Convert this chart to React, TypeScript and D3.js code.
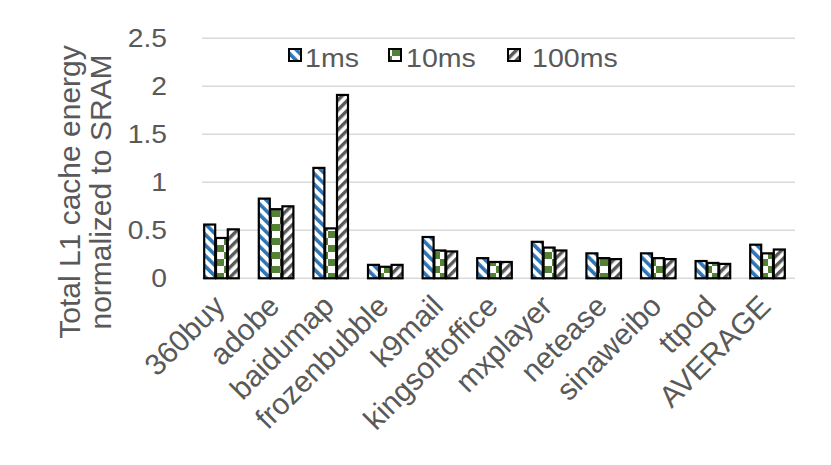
import React from "react";
import * as d3 from "d3";

const categories = ["360buy", "adobe", "baidumap", "frozenbubble", "k9mail", "kingsoftoffice", "mxplayer", "netease", "sinaweibo", "ttpod", "AVERAGE"];
const seriesNames = ["1ms", "10ms", "100ms"];
const values1ms = [0.56, 0.83, 1.15, 0.14, 0.43, 0.21, 0.38, 0.26, 0.26, 0.18, 0.35];
const values10ms = [0.42, 0.72, 0.52, 0.12, 0.29, 0.17, 0.32, 0.21, 0.21, 0.16, 0.26];
const values100ms = [0.51, 0.75, 1.91, 0.14, 0.28, 0.17, 0.29, 0.2, 0.2, 0.15, 0.3];
const yTicks = [0, 0.5, 1, 1.5, 2, 2.5];
const yTickLabels = ["0", "0.5", "1", "1.5", "2", "2.5"];

const W = 831;
const H = 465;
const FONT = "'Liberation Sans', Arial, sans-serif";
const TEXT = "#595959";

export default function App() {
  const series = [values1ms, values10ms, values100ms];
  const x = d3.scaleBand<string>().domain(categories).range([194.2, 794.8]).padding(0);
  const y = d3.scaleLinear().domain([0, 2.5]).range([278.3, 38.3]);
  const barW = 11;
  const step = 11.8;
  const fills = ["url(#p1)", "url(#p2)", "url(#p3)"];

  return (
    <svg width={W} height={H} style={{ position: "absolute", left: 0, top: 0, background: "#fff" }}>
      <defs>
        <pattern id="p1" patternUnits="userSpaceOnUse" width="7.5" height="7.5" patternTransform="rotate(-45)">
          <rect width="7.5" height="7.5" fill="#fff" />
          <rect width="3.6" height="7.5" fill="#2E75B6" />
        </pattern>
        <pattern id="p2" patternUnits="userSpaceOnUse" width="16" height="14">
          <rect width="16" height="14" fill="#fff" />
          <rect x="0" y="0" width="8" height="7" fill="#548235" />
          <rect x="8" y="7" width="8" height="7" fill="#548235" />
        </pattern>
        <pattern id="p3" patternUnits="userSpaceOnUse" width="7" height="7" patternTransform="rotate(45)">
          <rect width="7" height="7" fill="#fff" />
          <rect width="3.4" height="7" fill="#595959" />
        </pattern>
      </defs>

      {yTicks.map((t, i) => (
        <g key={i}>
          <line x1={202} x2={795} y1={y(t)} y2={y(t)} stroke="#d9d9d9" strokeWidth={1.6} />
          <text
            transform={`translate(167,${y(t)}) scale(1.13,1)`}
            dy="0.36em"
            textAnchor="end"
            fontFamily={FONT}
            fontSize={25}
            fill={TEXT}
          >
            {yTickLabels[i]}
          </text>
        </g>
      ))}

      {categories.map((c, ci) => {
        const cx = (x(c) as number) + x.bandwidth() / 2;
        return (
          <g key={c}>
            {series.map((vals, si) => {
              const bx = cx - step * 1.5 + si * step + (step - barW) / 2;
              return (
                <rect
                  key={si}
                  x={bx}
                  y={y(vals[ci])}
                  width={barW}
                  height={y(0) - y(vals[ci])}
                  fill={fills[si]}
                  stroke="#000"
                  strokeWidth={2.2}
                />
              );
            })}
            <text
              transform={`translate(${cx + 5},308) rotate(-45)`}
              textAnchor="end"
              fontFamily={FONT}
              fontSize={30}
              fill={TEXT}
            >
              {c}
            </text>
          </g>
        );
      })}

      {seriesNames.map((s, i) => {
        const lx = [289, 389, 508][i];
        const tx = [305, 406, 532][i];
        return (
          <g key={s}>
            <rect x={lx} y={49} width={12} height={12} fill={fills[i]} stroke="#000" strokeWidth={2} />
            <text transform={`translate(${tx},67) scale(1.12,1)`} fontFamily={FONT} fontSize={25.5} fill={TEXT}>
              {s}
            </text>
          </g>
        );
      })}

      <text transform="translate(0,192) rotate(-90)" textAnchor="middle" fontFamily={FONT} fontSize={30} fill={TEXT}>
        <tspan x={0} y={80}>Total L1 cache energy</tspan>
        <tspan x={0} y={111}>normalized to SRAM</tspan>
      </text>
    </svg>
  );
}
